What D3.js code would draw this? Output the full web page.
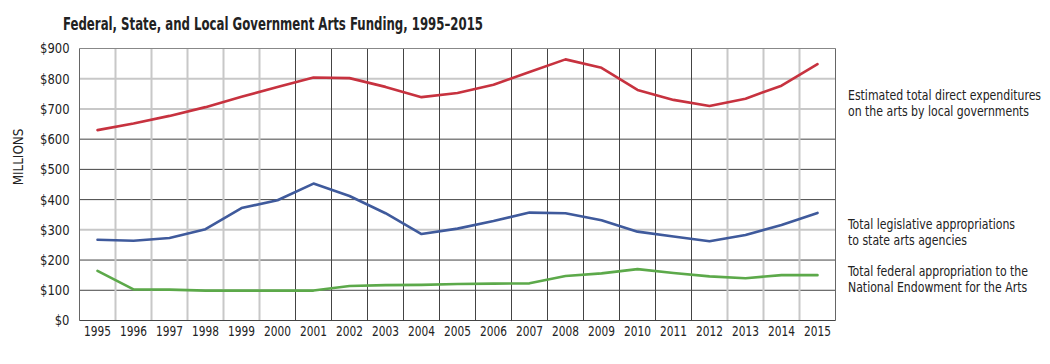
<!DOCTYPE html>
<html>
<head>
<meta charset="utf-8">
<script src="https://cdn.jsdelivr.net/npm/d3@7"></script>
<style>
  body { margin: 0; background: #fff; }
  text { font-family: "Liberation Sans Narrow", "DejaVu Sans Condensed", "Roboto Condensed", sans-serif; fill: #222; }
</style>
</head>
<body>
<svg id="chart" width="1050" height="364"></svg>
<script>
// data (millions of dollars)
const years = d3.range(1995, 2016);
const localGov = [630, 652, 677, 706, 740, 773, 804, 802, 773, 739, 753, 780, 822, 864, 836, 763, 730, 710, 734, 777, 848];
const stateAgencies = [267, 264, 273, 302, 372, 398, 453, 412, 355, 286, 304, 329, 357, 355, 332, 294, 278, 262, 283, 316, 356];
const federalNEA = [164, 103, 102, 99, 99, 99, 99, 114, 117, 118, 121, 122, 123, 147, 156, 170, 157, 146, 140, 150, 150];
const yTicks = [0, 100, 200, 300, 400, 500, 600, 700, 800, 900];
const seriesLabels = [
  ["Estimated total direct expenditures", "on the arts by local governments"],
  ["Total legislative appropriations", "to state arts agencies"],
  ["Total federal appropriation to the", "National Endowment for the Arts"]
];

const width = 1050;
const height = 364;
const margin = { top: 48.5, right: 214.5, bottom: 43.5, left: 79.5 };

const svg = d3.select('#chart');

// squeeze text horizontally to look like a condensed face
function condense(sel, factor) {
  sel.each(function () {
    const w = this.getComputedTextLength();
    d3.select(this)
      .attr('textLength', w * factor)
      .attr('lengthAdjust', 'spacingAndGlyphs');
  });
}

const x = d3.scaleBand()
  .domain(years)
  .range([margin.left, width - margin.right])
  .paddingInner(0)
  .paddingOuter(0);

const y = d3.scaleLinear()
  .domain([0, 900])
  .range([height - margin.bottom, margin.top]);

// grid: some lines are drawn soft/wide, others hard/thin, as in the original
const softH = [300, 700, 800];
const softV = [1996, 1997, 1998, 1999, 2000, 2013, 2014, 2015];

const grid = svg.append('g');

grid.selectAll('.hgrid')
  .data(yTicks.filter(d => d > 0 && d < 900))
  .enter()
  .append('line')
  .attr('x1', x.range()[0])
  .attr('x2', x.range()[1])
  .attr('y1', d => y(d))
  .attr('y2', d => y(d))
  .attr('stroke', d => softH.includes(d) ? '#c8c8c8' : '#444')
  .attr('stroke-width', d => softH.includes(d) ? 2 : 1);

grid.selectAll('.vgrid')
  .data(years.slice(1))
  .enter()
  .append('line')
  .attr('x1', d => x(d))
  .attr('x2', d => x(d))
  .attr('y1', y(0))
  .attr('y2', y(900))
  .attr('stroke', d => softV.includes(d) ? '#c8c8c8' : '#444')
  .attr('stroke-width', d => softV.includes(d) ? 2 : 1);

// frame
grid.append('line')
  .attr('x1', x.range()[0]).attr('x2', x.range()[1])
  .attr('y1', y(900)).attr('y2', y(900))
  .attr('stroke', '#888');
grid.append('line')
  .attr('x1', x.range()[1]).attr('x2', x.range()[1])
  .attr('y1', y(0)).attr('y2', y(900))
  .attr('stroke', '#666');
grid.append('line')
  .attr('x1', x.range()[0]).attr('x2', x.range()[0])
  .attr('y1', y(0)).attr('y2', y(900))
  .attr('stroke', '#666');
grid.append('line')
  .attr('x1', x.range()[0]).attr('x2', x.range()[1])
  .attr('y1', y(0)).attr('y2', y(0))
  .attr('stroke', '#444');

// y axis labels
svg.selectAll('.ylabel')
  .data(yTicks)
  .enter()
  .append('text')
  .attr('x', margin.left - 10)
  .attr('y', d => y(d))
  .attr('dy', '.35em')
  .attr('text-anchor', 'end')
  .attr('font-size', '14px')
  .text(d => '$' + d)
  .call(condense, 0.92);

// x axis labels
svg.selectAll('.xlabel')
  .data(years)
  .enter()
  .append('text')
  .attr('x', d => x(d) + x.bandwidth() / 2)
  .attr('y', 336)
  .attr('text-anchor', 'middle')
  .attr('font-size', '14px')
  .text(d => d)
  .call(condense, 0.84);

// lines
const line = d3.line()
  .x((d, i) => x(years[i]) + x.bandwidth() / 2)
  .y(d => y(d));

const series = [
  { values: localGov, color: '#c7323f' },
  { values: stateAgencies, color: '#3f5a9c' },
  { values: federalNEA, color: '#5ca94a' }
];

svg.selectAll('.series')
  .data(series)
  .enter()
  .append('path')
  .attr('d', d => line(d.values))
  .attr('fill', 'none')
  .attr('stroke', d => d.color)
  .attr('stroke-width', 2.6)
  .attr('stroke-linejoin', 'round')
  .attr('stroke-linecap', 'round');

// series labels at right (scaled group keeps a narrow look)
const labelTop = [100, 229, 276];
seriesLabels.forEach((lines, i) => {
  lines.forEach((s, j) => {
    svg.append('g')
      .attr('transform', `translate(848,${labelTop[i] + j * 16}) scale(0.9,1)`)
      .append('text')
      .attr('font-size', '13.5px')
      .text(s);
  });
});

// y axis title
svg.append('text')
  .attr('transform', 'translate(23,157) rotate(-90)')
  .attr('text-anchor', 'middle')
  .attr('font-size', '14px')
  .text('MILLIONS')
  .call(condense, 0.95);

// title
svg.append('text')
  .attr('x', 63)
  .attr('y', 30)
  .attr('font-size', '18px')
  .attr('font-weight', 'bold')
  .attr('textLength', 420)
  .attr('lengthAdjust', 'spacingAndGlyphs')
  .text('Federal, State, and Local Government Arts Funding, 1995–2015');
</script>
</body>
</html>
